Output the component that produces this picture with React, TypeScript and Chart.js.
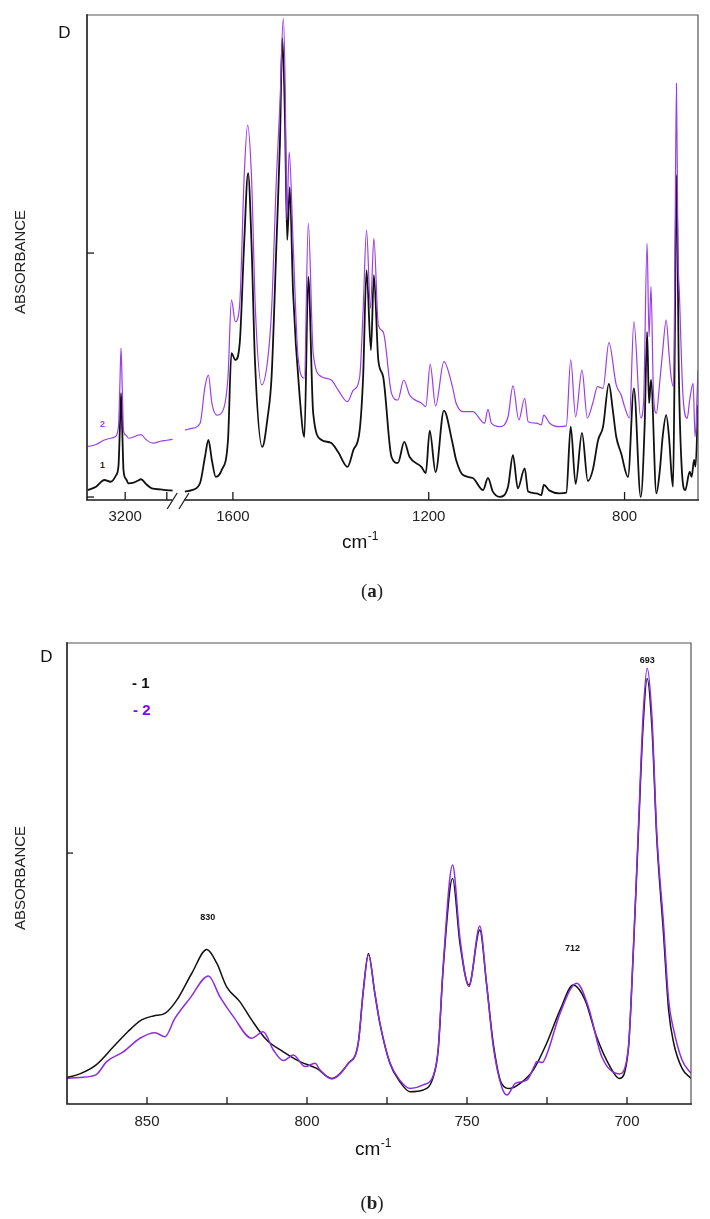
import React, { useEffect, useRef } from "react";
import { Chart, registerables } from "chart.js";
Chart.register(...registerables);

// ================= Panel (a): full spectrum with axis break =================
// high-wavenumber segment (left of break)
const A_BLACK_HI_WN = [3290, 3270, 3250, 3235, 3222, 3216, 3213, 3210, 3207, 3204, 3198, 3192, 3180, 3170, 3162, 3150, 3136, 3115, 3100, 3086];
const A_BLACK_HI = [0.040, 0.054, 0.081, 0.074, 0.100, 0.140, 0.280, 0.433, 0.280, 0.120, 0.085, 0.067, 0.070, 0.078, 0.084, 0.065, 0.047, 0.043, 0.040, 0.038];
const A_PURPLE_HI_WN = [3290, 3270, 3250, 3235, 3224, 3216, 3213, 3210, 3207, 3204, 3198, 3192, 3180, 3170, 3162, 3150, 3133, 3115, 3100, 3086];
const A_PURPLE_HI = [0.216, 0.225, 0.243, 0.250, 0.256, 0.300, 0.450, 0.615, 0.450, 0.280, 0.262, 0.250, 0.255, 0.262, 0.265, 0.245, 0.230, 0.238, 0.242, 0.246];

// fingerprint segment (right of break)
const A_BLACK_LO_WN = [1698, 1684, 1667, 1657, 1650, 1643, 1635, 1623, 1610, 1603, 1595, 1586, 1577, 1569, 1562, 1555, 1540, 1529, 1521, 1511, 1504, 1499, 1494, 1489, 1484, 1477, 1463, 1454, 1446, 1436, 1419, 1399, 1385, 1366, 1354, 1341, 1334, 1327, 1318, 1312, 1303, 1293, 1276, 1263, 1250, 1239, 1215, 1206, 1198, 1186, 1169, 1152, 1144, 1130, 1110, 1089, 1079, 1069, 1055, 1038, 1028, 1018, 1004, 997, 980, 970, 965, 953, 933, 919, 910, 900, 887, 875, 865, 854, 844, 832, 824, 817, 807, 793, 781, 767, 759, 754, 750, 746, 735, 728, 722, 715, 709, 704, 701, 698, 694, 689, 683, 676, 667, 663, 658, 655, 650];
const A_BLACK_LO = [0.034, 0.040, 0.069, 0.175, 0.243, 0.162, 0.094, 0.121, 0.243, 0.595, 0.567, 0.636, 1.041, 1.324, 1.041, 0.567, 0.215, 0.336, 0.498, 1.041, 1.440, 1.871, 1.579, 1.053, 1.267, 0.838, 0.405, 0.255, 0.903, 0.352, 0.243, 0.231, 0.194, 0.134, 0.202, 0.283, 0.498, 0.931, 0.607, 0.911, 0.567, 0.498, 0.174, 0.150, 0.235, 0.174, 0.134, 0.109, 0.281, 0.113, 0.362, 0.236, 0.162, 0.101, 0.089, 0.040, 0.089, 0.034, 0.013, 0.054, 0.182, 0.047, 0.128, 0.034, 0.027, 0.020, 0.061, 0.038, 0.027, 0.030, 0.297, 0.065, 0.272, 0.077, 0.121, 0.243, 0.296, 0.470, 0.364, 0.256, 0.189, 0.093, 0.452, 0.012, 0.300, 0.681, 0.392, 0.486, 0.027, 0.120, 0.260, 0.344, 0.250, 0.100, 0.054, 0.499, 1.316, 0.499, 0.121, 0.040, 0.115, 0.094, 0.162, 0.135, 0.385];
const A_PURPLE_LO_WN = [1698, 1684, 1667, 1657, 1650, 1643, 1633, 1620, 1610, 1603, 1595, 1586, 1577, 1570, 1562, 1554, 1541, 1529, 1521, 1511, 1504, 1497, 1493, 1490, 1485, 1477, 1467, 1454, 1446, 1436, 1419, 1399, 1385, 1366, 1354, 1341, 1334, 1327, 1319, 1312, 1303, 1293, 1276, 1263, 1251, 1239, 1215, 1206, 1197, 1186, 1169, 1152, 1144, 1130, 1110, 1086, 1079, 1072, 1055, 1038, 1028, 1016, 1004, 997, 980, 970, 965, 953, 933, 919, 910, 900, 887, 876, 865, 855, 844, 832, 817, 807, 800, 790, 781, 767, 761, 754, 750, 746, 741, 735, 729, 722, 715, 709, 705, 700, 697, 694, 691, 688, 681, 672, 667, 660, 656, 650];
const A_PURPLE_LO = [0.283, 0.290, 0.311, 0.459, 0.506, 0.393, 0.344, 0.364, 0.499, 0.810, 0.722, 0.796, 1.309, 1.518, 1.309, 0.769, 0.466, 0.567, 0.769, 1.309, 1.600, 1.950, 1.648, 1.134, 1.410, 1.041, 0.580, 0.493, 1.120, 0.594, 0.499, 0.486, 0.445, 0.398, 0.445, 0.499, 0.769, 1.093, 0.776, 1.060, 0.709, 0.681, 0.432, 0.405, 0.486, 0.425, 0.392, 0.378, 0.549, 0.381, 0.560, 0.462, 0.392, 0.358, 0.358, 0.311, 0.367, 0.311, 0.297, 0.337, 0.462, 0.324, 0.412, 0.317, 0.311, 0.304, 0.344, 0.311, 0.297, 0.300, 0.568, 0.337, 0.526, 0.332, 0.392, 0.459, 0.452, 0.637, 0.466, 0.425, 0.378, 0.332, 0.722, 0.332, 0.405, 1.039, 0.661, 0.864, 0.433, 0.351, 0.459, 0.607, 0.729, 0.587, 0.499, 0.459, 1.012, 1.687, 1.012, 0.837, 0.433, 0.331, 0.405, 0.472, 0.256, 0.526];

const A_XTICK_WN = [3200, 3100, 1600, 1200, 800];
const A_XTICK_LABELS = ["3200", "", "1600", "1200", "800"];
const A_YTICKS = [0.012, 1];
const A_Y_MAX = 1.964;
const A_X_MIN = 650;
const A_X_MAX = 1898;
// axis break: high segment is compressed and placed left of the fingerprint region
const HI_ANCHOR_WN = 3200;
const HI_ANCHOR_U = 1820;
const HI_COMPRESS = 0.85;
const A_BREAK_U = [1724, 1700];
const hiToU = (wn: number) => HI_ANCHOR_U + (wn - HI_ANCHOR_WN) * HI_COMPRESS;
const aTickU = (wn: number) => (wn > 2000 ? hiToU(wn) : wn);

// ================= Panel (b): 875 - 680 cm-1 zoom =================
const B_BLACK_WN = [875, 871, 866, 860.5, 856, 851.7, 848, 844.4, 840.7, 836, 831.3, 828.2, 825.1, 821, 817.3, 812.6, 807.4, 802.2, 797, 792.3, 787.1, 784, 782.4, 780.8, 778.8, 777.2, 774.1, 771, 767.8, 763.7, 760.5, 759, 757.4, 754.5, 752.2, 749.4, 746, 743.9, 741.8, 739.2, 736.6, 733.4, 729.3, 725.1, 720.9, 716.8, 713.1, 709.5, 705.3, 702.4, 699.6, 698, 696.5, 695, 693.7, 692.2, 690.7, 688.6, 687, 685.4, 682.8, 680];
const B_BLACK = [0.105, 0.120, 0.155, 0.228, 0.288, 0.335, 0.351, 0.361, 0.414, 0.521, 0.616, 0.561, 0.467, 0.408, 0.335, 0.255, 0.208, 0.169, 0.142, 0.102, 0.162, 0.242, 0.454, 0.600, 0.441, 0.320, 0.162, 0.089, 0.049, 0.056, 0.109, 0.215, 0.547, 0.899, 0.640, 0.474, 0.693, 0.481, 0.242, 0.082, 0.062, 0.082, 0.135, 0.242, 0.375, 0.474, 0.414, 0.268, 0.149, 0.102, 0.215, 0.614, 1.060, 1.500, 1.696, 1.500, 1.060, 0.680, 0.375, 0.242, 0.142, 0.102];
const B_PURPLE_WN = [875, 871, 866, 862.6, 857.4, 852.2, 847.5, 844.4, 841.3, 836.6, 830.8, 827.2, 823, 817.3, 813.7, 810.5, 807.4, 804.3, 800.6, 797.5, 795.9, 792.3, 787.1, 784, 782.4, 780.8, 778.8, 777.2, 774.1, 771, 767.8, 763.7, 760.5, 759, 757.4, 754.5, 752.2, 749.4, 746, 743.9, 741.8, 739.2, 737.5, 734.9, 731.2, 729, 728.2, 726.5, 725, 720.9, 715.7, 712.1, 707.9, 702.4, 699.6, 698, 696.5, 695, 693.7, 692.2, 690.7, 688.6, 687, 685.4, 682.8, 680];
const B_PURPLE = [0.102, 0.106, 0.116, 0.169, 0.208, 0.262, 0.284, 0.268, 0.341, 0.421, 0.510, 0.427, 0.348, 0.262, 0.288, 0.215, 0.173, 0.195, 0.149, 0.162, 0.135, 0.100, 0.162, 0.242, 0.450, 0.595, 0.441, 0.320, 0.165, 0.095, 0.062, 0.076, 0.115, 0.220, 0.560, 0.952, 0.660, 0.468, 0.709, 0.480, 0.230, 0.070, 0.036, 0.082, 0.096, 0.150, 0.169, 0.165, 0.200, 0.362, 0.481, 0.388, 0.189, 0.120, 0.220, 0.620, 1.080, 1.540, 1.736, 1.540, 1.080, 0.720, 0.414, 0.295, 0.175, 0.122];
const B_XTICK_WN = [850, 825, 800, 775, 750, 725, 700];
const B_XTICK_LABELS = ["850", "", "800", "", "750", "", "700"];
const B_YTICKS = [1];
const B_Y_MAX = 1.837;
const B_X_MIN = 680;
const B_X_MAX = 875;
const B_PEAK_WN = [831, 717, 693.7];
const B_PEAK_V = [0.745, 0.618, 1.769];
const B_PEAK_TEXT = ["830", "712", "693"];

// ================= styling =================
const SANS = "Arial, 'Liberation Sans', Helvetica, sans-serif";
const SERIF = "'Liberation Serif', 'DejaVu Serif', Times, serif";
const BLACK = "#111111";
const PURPLE = "#8b2be2";
const PURPLE_LIGHT = "#9a3ee8";

function pts(wn: number[], v: number[], map?: (w: number) => number) {
  return wn.map((w, i) => ({ x: map ? map(w) : w, y: v[i] }));
}

function lineDs(data: any[], color: string, width: number, order: number) {
  return {
    data,
    borderColor: color,
    backgroundColor: color,
    borderWidth: width,
    pointRadius: 0,
    pointHoverRadius: 0,
    cubicInterpolationMode: "monotone",
    fill: false,
    order,
  };
}

function drawFrame(ctx: CanvasRenderingContext2D, ca: any) {
  ctx.save();
  ctx.lineCap = "square";
  ctx.strokeStyle = "#555";
  ctx.lineWidth = 1.2;
  ctx.beginPath();
  ctx.moveTo(ca.left, ca.top);
  ctx.lineTo(ca.right, ca.top);
  ctx.lineTo(ca.right, ca.bottom);
  ctx.stroke();
  ctx.strokeStyle = "#1a1a1a";
  ctx.lineWidth = 1.6;
  ctx.beginPath();
  ctx.moveTo(ca.left, ca.top);
  ctx.lineTo(ca.left, ca.bottom);
  ctx.lineTo(ca.right, ca.bottom);
  ctx.stroke();
  ctx.restore();
}

function drawInwardTicks(chart: any, xVals: number[], yVals: number[], xLen: number, yLen: number) {
  const { ctx, chartArea: ca, scales } = chart;
  ctx.save();
  ctx.strokeStyle = "#1a1a1a";
  ctx.lineWidth = 1.3;
  xVals.forEach((v) => {
    const px = scales.x.getPixelForValue(v);
    ctx.beginPath();
    ctx.moveTo(px, ca.bottom);
    ctx.lineTo(px, ca.bottom - xLen);
    ctx.stroke();
  });
  yVals.forEach((v) => {
    const py = scales.y.getPixelForValue(v);
    ctx.beginPath();
    ctx.moveTo(ca.left, py);
    ctx.lineTo(ca.left + yLen, py);
    ctx.stroke();
  });
  ctx.restore();
}

function txt(ctx: CanvasRenderingContext2D, s: string, x: number, y: number, font: string, color: string, align: CanvasTextAlign = "center", baseline: CanvasTextBaseline = "middle") {
  ctx.save();
  ctx.font = font;
  ctx.fillStyle = color;
  ctx.textAlign = align;
  ctx.textBaseline = baseline;
  ctx.fillText(s, x, y);
  ctx.restore();
}

function vText(ctx: CanvasRenderingContext2D, s: string, x: number, y: number, font: string, color: string) {
  ctx.save();
  ctx.translate(x, y);
  ctx.rotate(-Math.PI / 2);
  ctx.font = font;
  ctx.fillStyle = color;
  ctx.textAlign = "center";
  ctx.textBaseline = "middle";
  ctx.fillText(s, 0, 0);
  ctx.restore();
}

function cmUnit(ctx: CanvasRenderingContext2D, left: number, baseline: number) {
  ctx.save();
  ctx.fillStyle = "#111";
  ctx.textBaseline = "alphabetic";
  ctx.textAlign = "left";
  ctx.font = `19px ${SANS}`;
  ctx.fillText("cm", left, baseline);
  const w = ctx.measureText("cm").width;
  ctx.font = `12px ${SANS}`;
  ctx.fillText("-1", left + w + 0.5, baseline - 8);
  ctx.restore();
}

function labelFor(ticksWn: number[], labels: number[] | string[], map: (w: number) => number) {
  return (value: number) => {
    const i = ticksWn.findIndex((w) => Math.abs(map(w) - value) < 1e-6);
    return i >= 0 ? (labels as string[])[i] : "";
  };
}

function configA(): any {
  const decor = {
    id: "decorA",
    afterDatasetsDraw(chart: any) {
      const { ctx, chartArea: ca, scales } = chart;
      drawFrame(ctx, ca);
      drawInwardTicks(chart, A_XTICK_WN.map(aTickU), A_YTICKS, 8, 7);
      // axis break marks
      const p1 = scales.x.getPixelForValue(A_BREAK_U[0]);
      const p2 = scales.x.getPixelForValue(A_BREAK_U[1]);
      ctx.save();
      ctx.fillStyle = "#fff";
      ctx.fillRect(p1, ca.bottom - 2, p2 - p1, 4);
      ctx.strokeStyle = "#1a1a1a";
      ctx.lineWidth = 1.2;
      [p1, p2].forEach((p) => {
        ctx.beginPath();
        ctx.moveTo(p - 5, ca.bottom + 9);
        ctx.lineTo(p + 5, ca.bottom - 7);
        ctx.stroke();
      });
      ctx.restore();
      // texts
      txt(ctx, "D", 64.5, 33, `17px ${SANS}`, "#111");
      vText(ctx, "ABSORBANCE", 20.5, 262, `15px ${SANS}`, "#222");
      txt(ctx, "2", 102.5, 425, `bold 9px ${SANS}`, PURPLE_LIGHT);
      txt(ctx, "1", 102.5, 466, `bold 9px ${SANS}`, "#4a1515");
      cmUnit(ctx, 342, 548);
      ctx.save();
      ctx.font = `19px ${SERIF}`;
      ctx.fillStyle = "#222";
      ctx.textBaseline = "middle";
      ctx.textAlign = "left";
      const lw = ctx.measureText("(").width;
      ctx.font = `bold 19px ${SERIF}`;
      const aw = ctx.measureText("a").width;
      const total = lw * 2 + aw;
      let x = 372 - total / 2;
      ctx.font = `19px ${SERIF}`;
      ctx.fillText("(", x, 592);
      x += lw;
      ctx.font = `bold 19px ${SERIF}`;
      ctx.fillText("a", x, 592);
      x += aw;
      ctx.font = `19px ${SERIF}`;
      ctx.fillText(")", x, 592);
      ctx.restore();
    },
  };
  return {
    type: "line",
    data: {
      datasets: [
        lineDs(pts(A_BLACK_HI_WN, A_BLACK_HI, hiToU), BLACK, 1.8, 2),
        lineDs(pts(A_BLACK_LO_WN, A_BLACK_LO), BLACK, 1.8, 2),
        lineDs(pts(A_PURPLE_HI_WN, A_PURPLE_HI, hiToU), PURPLE_LIGHT, 1.2, 1),
        lineDs(pts(A_PURPLE_LO_WN, A_PURPLE_LO), PURPLE_LIGHT, 1.2, 1),
      ],
    },
    options: {
      responsive: false,
      animation: false,
      devicePixelRatio: 1,
      layout: { padding: { top: 15, right: 12, left: 0, bottom: 0 } },
      plugins: { legend: { display: false }, tooltip: { enabled: false } },
      events: [],
      scales: {
        x: {
          type: "linear",
          reverse: true,
          min: A_X_MIN,
          max: A_X_MAX,
          afterBuildTicks: (s: any) => {
            s.ticks = A_XTICK_WN.map((w) => ({ value: aTickU(w) }));
          },
          afterFit: (s: any) => {
            s.height = 110;
          },
          grid: { display: false, drawTicks: false },
          border: { display: false },
          ticks: {
            autoSkip: false,
            maxRotation: 0,
            padding: 8,
            color: "#222",
            font: { family: SANS, size: 15 },
            callback: labelFor(A_XTICK_WN, A_XTICK_LABELS, aTickU),
          },
        },
        y: {
          type: "linear",
          min: 0,
          max: A_Y_MAX,
          afterFit: (s: any) => {
            s.width = 87;
          },
          grid: { display: false, drawTicks: false },
          border: { display: false },
          ticks: { display: false },
        },
      },
    },
    plugins: [decor],
  };
}

function configB(): any {
  const decor = {
    id: "decorB",
    afterDatasetsDraw(chart: any) {
      const { ctx, chartArea: ca, scales } = chart;
      drawFrame(ctx, ca);
      drawInwardTicks(chart, B_XTICK_WN, B_YTICKS, 7, 6);
      txt(ctx, "D", 46.5, 47, `17px ${SANS}`, "#111");
      vText(ctx, "ABSORBANCE", 20.5, 268, `15px ${SANS}`, "#222");
      txt(ctx, "- 1", 132, 74, `bold 15px ${SANS}`, "#111", "left");
      txt(ctx, "- 2", 133, 101, `bold 15px ${SANS}`, "#8000ff", "left");
      B_PEAK_TEXT.forEach((t, i) => {
        txt(ctx, t, scales.x.getPixelForValue(B_PEAK_WN[i]), scales.y.getPixelForValue(B_PEAK_V[i]), `bold 9px ${SANS}`, "#111");
      });
      cmUnit(ctx, 355, 545);
      ctx.save();
      ctx.font = `19px ${SERIF}`;
      ctx.fillStyle = "#222";
      ctx.textBaseline = "middle";
      ctx.textAlign = "left";
      const lw = ctx.measureText("(").width;
      ctx.font = `bold 19px ${SERIF}`;
      const bw = ctx.measureText("b").width;
      const total = lw * 2 + bw;
      let x = 372 - total / 2;
      ctx.font = `19px ${SERIF}`;
      ctx.fillText("(", x, 594);
      x += lw;
      ctx.font = `bold 19px ${SERIF}`;
      ctx.fillText("b", x, 594);
      x += bw;
      ctx.font = `19px ${SERIF}`;
      ctx.fillText(")", x, 594);
      ctx.restore();
    },
  };
  return {
    type: "line",
    data: {
      datasets: [
        lineDs(pts(B_BLACK_WN, B_BLACK), BLACK, 1.5, 2),
        lineDs(pts(B_PURPLE_WN, B_PURPLE), PURPLE, 1.5, 1),
      ],
    },
    options: {
      responsive: false,
      animation: false,
      devicePixelRatio: 1,
      layout: { padding: { top: 33, right: 19, left: 0, bottom: 0 } },
      plugins: { legend: { display: false }, tooltip: { enabled: false } },
      events: [],
      scales: {
        x: {
          type: "linear",
          reverse: true,
          min: B_X_MIN,
          max: B_X_MAX,
          afterBuildTicks: (s: any) => {
            s.ticks = B_XTICK_WN.map((w) => ({ value: w }));
          },
          afterFit: (s: any) => {
            s.height = 115;
          },
          grid: { display: false, drawTicks: false },
          border: { display: false },
          ticks: {
            autoSkip: false,
            maxRotation: 0,
            padding: 9,
            color: "#222",
            font: { family: SANS, size: 15 },
            callback: labelFor(B_XTICK_WN, B_XTICK_LABELS, (w) => w),
          },
        },
        y: {
          type: "linear",
          min: 0,
          max: B_Y_MAX,
          afterFit: (s: any) => {
            s.width = 67;
          },
          grid: { display: false, drawTicks: false },
          border: { display: false },
          ticks: { display: false },
        },
      },
    },
    plugins: [decor],
  };
}

export default function App() {
  const topRef = useRef<HTMLCanvasElement>(null);
  const botRef = useRef<HTMLCanvasElement>(null);
  useEffect(() => {
    const c1 = new Chart(topRef.current as HTMLCanvasElement, configA());
    const c2 = new Chart(botRef.current as HTMLCanvasElement, configB());
    return () => {
      c1.destroy();
      c2.destroy();
    };
  }, []);
  return (
    <div style={{ position: "fixed", left: 0, top: 0, width: 710, height: 1219, background: "#fff" }}>
      <canvas ref={topRef} width={710} height={610} style={{ position: "absolute", left: 0, top: 0, width: 710, height: 610 }} />
      <canvas ref={botRef} width={710} height={609} style={{ position: "absolute", left: 0, top: 610, width: 710, height: 609 }} />
    </div>
  );
}
